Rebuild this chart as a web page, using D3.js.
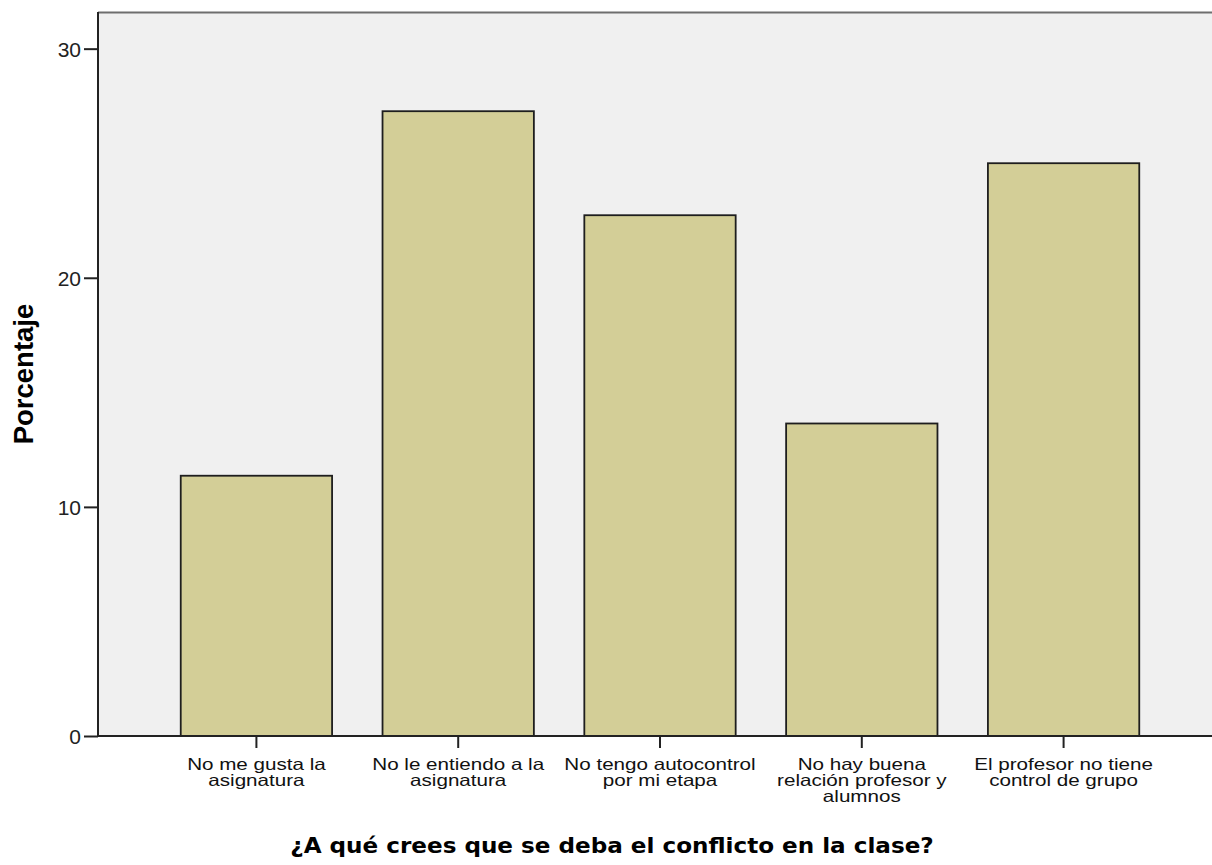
<!DOCTYPE html>
<html><head><meta charset="utf-8">
<script src="https://cdn.jsdelivr.net/npm/d3@7"></script>
<style>html,body{margin:0;padding:0;background:#fff;}svg{display:block;}</style>
</head><body>
<svg id="chart" width="1212" height="865"></svg>
<script>
const categories = [
  ["No me gusta la", "asignatura"],
  ["No le entiendo a la", "asignatura"],
  ["No tengo autocontrol", "por mi etapa"],
  ["No hay buena", "relación profesor y", "alumnos"],
  ["El profesor no tiene", "control de grupo"]
];
const categoryKeys = ["c1","c2","c3","c4","c5"];
const values = [11.36, 27.27, 22.73, 13.64, 25.0];
const yTicks = [0, 10, 20, 30];
const xTitle = "¿A qué crees que se deba el conflicto en la clase?";
const yTitle = "Porcentaje";

const svg = d3.select("#chart");
const m = {left: 98, top: 12, bottom: 736, right: 1222};

const x = d3.scaleBand().domain(categoryKeys).range([m.left, m.right])
  .paddingInner(0.25).paddingOuter(0.41);
const y = d3.scaleLinear().domain([0, 31.6]).range([m.bottom, m.top]);

// plot background
svg.append("rect").attr("x", m.left).attr("y", m.top)
  .attr("width", 1212 - m.left + 5).attr("height", m.bottom - m.top)
  .attr("fill", "#f0f0f0");
// top border
svg.append("line").attr("x1", m.left).attr("x2", 1212).attr("y1", m.top + 0.5).attr("y2", m.top + 0.5)
  .attr("stroke", "#6e6e6e").attr("stroke-width", 2);

// bars
svg.selectAll("rect.bar").data(values).join("rect").attr("class","bar")
  .attr("x", (d,i) => x(categoryKeys[i]))
  .attr("width", x.bandwidth())
  .attr("y", d => y(d))
  .attr("height", d => y(0) - y(d))
  .attr("fill", "#d3ce97")
  .attr("stroke", "#1e1e1e").attr("stroke-width", 1.8);

// y axis
const yAxis = d3.axisLeft(y).tickValues(yTicks).tickSize(14).tickPadding(3).tickFormat(d3.format("d"));
const gy = svg.append("g").attr("transform", `translate(${m.left},0)`).call(yAxis);
gy.select(".domain").remove();
gy.selectAll(".tick line").attr("stroke", "#222").attr("stroke-width", 2);
gy.selectAll(".tick text").attr("font-family", "Liberation Sans, Arial, sans-serif")
  .attr("font-size", 21).attr("fill", "#222").attr("dy", "0.36em");
svg.append("line").attr("x1", m.left).attr("x2", m.left).attr("y1", m.top).attr("y2", m.bottom + 1)
  .attr("stroke", "#222").attr("stroke-width", 2);

// x axis
const xAxis = d3.axisBottom(x).tickSize(12).tickFormat("");
const gx = svg.append("g").attr("transform", `translate(0,${m.bottom})`).call(xAxis);
gx.select(".domain").remove();
gx.selectAll(".tick line").attr("stroke", "#222").attr("stroke-width", 2);
svg.append("line").attr("x1", m.left).attr("x2", 1212).attr("y1", m.bottom).attr("y2", m.bottom)
  .attr("stroke", "#222").attr("stroke-width", 2);

// x labels (one text per category, lines as tspans)
const SX = 1.25;
categories.forEach((lines, i) => {
  const cx = x(categoryKeys[i]) + x.bandwidth() / 2;
  const t = svg.append("g").attr("transform", `translate(${cx},770) scale(${SX},1)`)
    .append("text").attr("text-anchor", "middle")
    .attr("font-family", "Liberation Sans, Arial, sans-serif").attr("font-size", 16.5)
    .attr("fill", "#111");
  lines.forEach((s, j) => {
    t.append("tspan").attr("x", 0).attr("y", j * 16).text(s);
  });
});

// x title
svg.append("g").attr("transform", `translate(612,853) scale(1.1,1)`)
  .append("text").attr("text-anchor", "middle")
  .attr("font-family", "DejaVu Sans, Verdana, sans-serif").attr("font-weight", "bold")
  .attr("font-size", 21).attr("fill", "#000").text(xTitle);

// y title
svg.append("g").attr("transform", `translate(33,374) rotate(-90)`)
  .append("text").attr("text-anchor", "middle")
  .attr("font-family", "Liberation Sans, Arial, sans-serif").attr("font-weight", "bold")
  .attr("font-size", 27.5).attr("fill", "#000").text(yTitle);
</script>
</body></html>
